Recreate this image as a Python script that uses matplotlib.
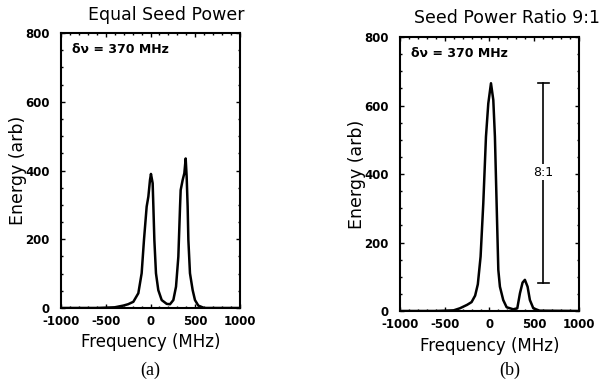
import matplotlib
matplotlib.use("Agg")
import matplotlib.pyplot as plt
from matplotlib.ticker import MultipleLocator

plt.rcParams['font.family'] = ['DejaVu Sans']
plt.rcParams['axes.unicode_minus'] = False

# panel (a): equal seed power
freq_a = [-1000, -600, -400, -304, -250, -192, -136, -99, -73, -43, -24, -6,
          5, 24, 32, 43, 61, 87, 125, 181, 218, 255, 285, 311, 330, 337,
          359, 378, 393, 404, 415, 423, 441, 471, 497, 534, 600, 1000]
energy_a = [0, 0, 2, 7, 11, 18, 43, 101, 198, 295, 324, 372,
            390, 363, 295, 198, 101, 52, 23, 12, 11, 23, 62, 149, 295, 343,
            372, 392, 435, 382, 295, 198, 101, 52, 23, 7, 0, 0]

# panel (b): seed power ratio 9:1
freq_b = [-1000, -600, -400, -330, -250, -200, -160, -130, -99, -69, -39, -13,
          17, 43, 61, 80, 99, 117, 154, 192, 266, 311, 341, 370, 396, 426,
          452, 490, 560, 1000]
energy_b = [0, 0, 2, 8, 18, 26, 45, 78, 159, 314, 509, 606,
            665, 616, 509, 314, 120, 71, 32, 11, 5, 8, 52, 83, 91, 71,
            32, 8, 1, 0]

ratio_top = 667
ratio_bottom = 83
ratio_freq = 600

titles = ["Equal Seed Power", "Seed Power Ratio 9:1"]
captions = ["(a)", "(b)"]
xticks = [-1000, -500, 0, 500, 1000]
yticks = [0, 200, 400, 600, 800]

fig = plt.figure(figsize=(6.03, 3.92), dpi=100)
ax1 = fig.add_axes([0.1012, 0.2143, 0.2968, 0.7015])
ax2 = fig.add_axes([0.6633, 0.2066, 0.2968, 0.699])

for ax, fr, en in [(ax1, freq_a, energy_a), (ax2, freq_b, energy_b)]:
    ax.plot(fr, en, color='black', lw=1.8)
    ax.set_xlim(-1000, 1000)
    ax.set_ylim(0, 800)
    ax.set_xticks(xticks)
    ax.set_yticks(yticks)
    ax.xaxis.set_minor_locator(MultipleLocator(100))
    ax.yaxis.set_minor_locator(MultipleLocator(50))
    ax.tick_params(which='both', direction='in', top=True, right=True, width=1)
    ax.tick_params(which='major', length=3, labelsize=8.5)
    ax.tick_params(axis='x', which='major', pad=5)
    ax.tick_params(axis='y', which='major', pad=8)
    ax.tick_params(which='minor', length=1.5)
    for lab in ax.get_xticklabels() + ax.get_yticklabels():
        lab.set_fontweight('bold')
    for sp in ax.spines.values():
        sp.set_linewidth(1.5)
    ax.set_xlabel("Frequency (MHz)", fontsize=12, labelpad=4)
    ax.set_ylabel("Energy (arb)", fontsize=12.5, labelpad=-1)
    ax.text(0.06, 0.965, "δν = 370 MHz", transform=ax.transAxes, fontsize=9,
            fontweight='bold', va='top', ha='left')

# 8:1 ratio bar
ax2.plot([ratio_freq, ratio_freq], [ratio_bottom, ratio_top], color='black', lw=1.2)
ax2.plot([ratio_freq - 60, ratio_freq + 60], [ratio_top, ratio_top], color='black', lw=1.2)
ax2.plot([ratio_freq - 60, ratio_freq + 60], [ratio_bottom, ratio_bottom], color='black', lw=1.2)
ax2.text(ratio_freq, 405, "8:1", ha='center', va='center',
         fontsize=9, bbox=dict(facecolor='white', edgecolor='none', pad=1))

fig.text(166 / 603, 1 - 15 / 392, titles[0], ha='center', va='center', fontsize=12.5)
fig.text(507 / 603, 1 - 18 / 392, titles[1], ha='center', va='center', fontsize=12.5)
fig.text(150 / 603, 1 - 370 / 392, captions[0], ha='center', va='center',
         fontsize=13, family='Liberation Serif')
fig.text(510 / 603, 1 - 370 / 392, captions[1], ha='center', va='center',
         fontsize=13, family='Liberation Serif')

fig.savefig("out.png", dpi=100)
